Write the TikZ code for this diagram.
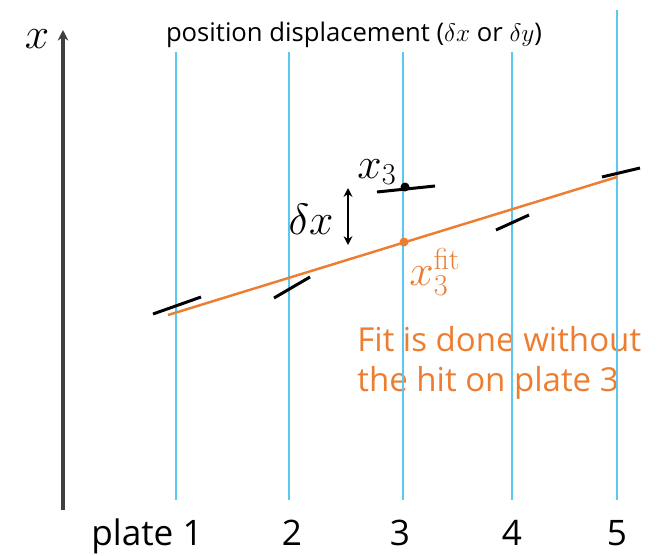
\documentclass[tikz,border=0pt]{standalone}
\usepackage[no-math]{fontspec}
\setmainfont{Open Sans}
\usetikzlibrary{arrows.meta}
\definecolor{plateblue}{RGB}{90,200,240}
\definecolor{fitorange}{RGB}{237,125,49}
\definecolor{axisgray}{RGB}{64,64,64}

\begin{document}
\begin{tikzpicture}[
  x=0.02cm, y=-0.02cm,
  plate/.style={draw=plateblue, line width=1.4pt},
  hit/.style={draw=black, line width=1.7pt},
  fitline/.style={draw=fitorange, line width=1.4pt},
  axisline/.style={-{Stealth[length=6pt,width=6pt]}, draw=axisgray, line width=2pt},
  dxarrow/.style={{Stealth[length=5pt,width=5pt]}-{Stealth[length=5pt,width=5pt]},
                  draw=black, line width=1.2pt},
  lbl/.style={font=\fontsize{20}{24}\selectfont, inner sep=0pt},
  mlbl/.style={font=\fontsize{23}{27}\selectfont, inner sep=0pt},
  dot/.style={circle, fill=#1, inner sep=0pt, minimum size=0.18cm},
]
\useasboundingbox (0,0) rectangle (658,555);

% --- note on the fit (under the plates)
\node[font=\fontsize{18.8}{22.7}\selectfont, text=fitorange, align=left,
      anchor=west, inner sep=0pt]
  (note) at (357,363) {Fit is done without\\the hit on plate 3};

% --- vertical axis
\coordinate (axbot) at (63,510);
\coordinate (axtop) at (63,30);
\draw[axisline] (axbot) -- (axtop);
\node[mlbl] (xlab) at (37,39) {$x$};

\node[font=\fontsize{14.6}{17}\selectfont, anchor=base, inner sep=0pt]
  (title) at (354,41) {position displacement ($\delta x$ or $\delta y$)};

% --- plates
\foreach \i/\px/\py in {1/176/52,2/289/52,3/403/52,4/512/52,5/617/10}{
  \coordinate (top\i) at (\px,\py);
  \coordinate (bot\i) at (\px,500);
  \draw[plate] (top\i) -- (bot\i);
}
\node[lbl, anchor=base east] (pl1) at (203,545) {plate 1};
\foreach \i/\px in {2/292,3/400,4/512,5/617}
  \node[lbl, anchor=base] (pl\i) at (\px,545) {\i};

% --- hits
\foreach \i/\ax/\ay/\bx/\by in {1/153/314/201/297,2/274/298/310/277,
    3/377/192/435/186,4/496/230/529/215,5/602/177/640/168}{
  \coordinate (hl\i) at (\ax,\ay);
  \coordinate (hr\i) at (\bx,\by);
  \draw[hit] (hl\i) -- (hr\i);
}

% --- fitted track
\coordinate (fitL) at (168,315);
\coordinate (fitR) at (617,177);
\draw[fitline] (fitL) -- (fitR);

\node[dot=black] (x3) at (405,187) {};
\node[dot=fitorange] (x3fit) at (404,242) {};

\coordinate (dxtop) at (348,188);
\coordinate (dxbot) at (348,245);
\draw[dxarrow] (dxtop) -- (dxbot);

\node[mlbl] (x3lab) at (377,172) {$x_3$};
\node[mlbl] (dxlab) at (311,219) {$\delta x$};
\node[mlbl, text=fitorange] (fitlab) at (435,272) {$x_3^{\mathrm{fit}}$};

\end{tikzpicture}
\end{document}
